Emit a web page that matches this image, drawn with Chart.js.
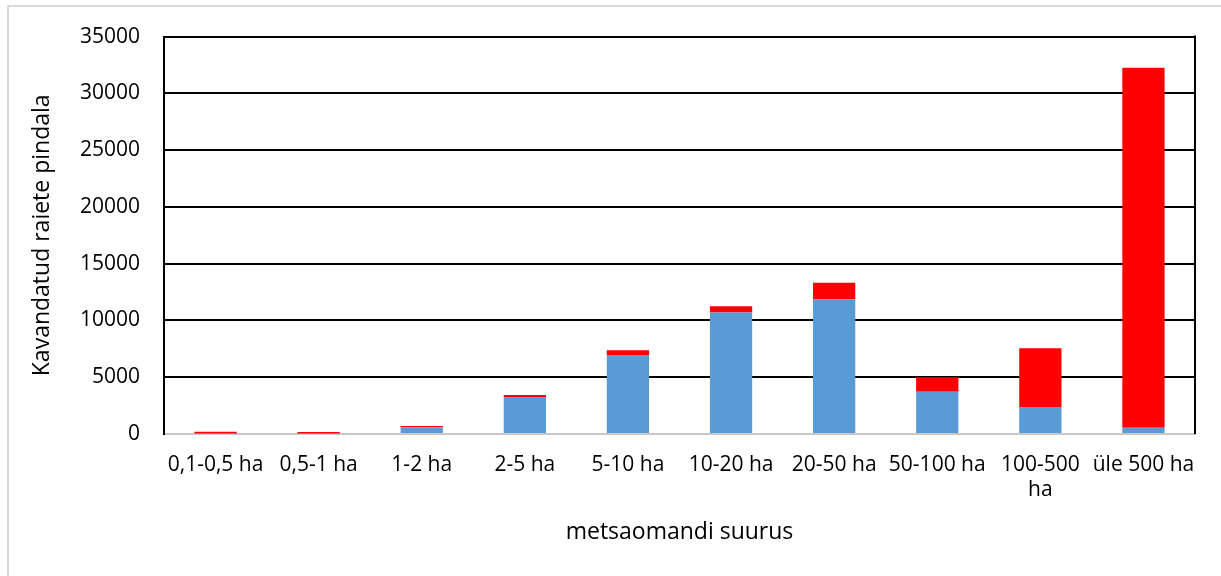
<!DOCTYPE html>
<html>
<head>
<meta charset="utf-8">
<script src="https://cdn.jsdelivr.net/npm/chart.js@4/dist/chart.umd.min.js"></script>
<style>
  html, body { margin: 0; padding: 0; background: #fff; }
  #wrap { width: 1221px; height: 576px; position: relative; }
</style>
</head>
<body>
<div id="wrap"><canvas id="raiedChart"></canvas></div>
<script>
// andmed graafikult
const categories = ['0,1-0,5 ha', '0,5-1 ha', '1-2 ha', '2-5 ha', '5-10 ha', '10-20 ha',
                    '20-50 ha', '50-100 ha', ['100-500', 'ha'], 'üle 500 ha'];
const blueValues = [20, 30, 600, 3250, 6950, 10700, 11850, 3720, 2380, 550];
const redValues  = [170, 140, 110, 180, 420, 550, 1480, 1280, 5170, 31700];
const yTicks = [0, 5000, 10000, 15000, 20000, 25000, 30000, 35000];

const FONT = '"Open Sans"';

// hall raam ümber ja parem piirjoon
const framePlugin = {
    id: 'frame',
    beforeDraw(chart) {
        const c = chart.ctx;
        c.save();
        c.strokeStyle = '#d9d9d9';
        c.lineWidth = 2;
        c.beginPath();
        c.moveTo(8, 600);
        c.lineTo(8, 6);
        c.lineTo(1240, 6);
        c.stroke();
        c.restore();
    },
    afterDatasetsDraw(chart) {
        const a = chart.chartArea;
        const c = chart.ctx;
        c.save();
        c.strokeStyle = '#000';
        c.lineWidth = 2;
        c.beginPath();
        c.moveTo(a.right, a.top - 1);
        c.lineTo(a.right, a.bottom);
        c.stroke();
        c.restore();
    }
};

const ctx = document.getElementById('raiedChart').getContext('2d');
new Chart(ctx, {
    type: 'bar',
    data: {
        labels: categories,
        datasets: [
            {
                label: 'Seeria 1',
                data: blueValues,
                backgroundColor: '#5b9bd5',
                borderWidth: 0,
                barPercentage: 0.41,
                categoryPercentage: 1
            },
            {
                label: 'Seeria 2',
                data: redValues,
                backgroundColor: '#ff0000',
                borderWidth: 0,
                barPercentage: 0.41,
                categoryPercentage: 1
            }
        ]
    },
    options: {
        responsive: true,
        maintainAspectRatio: false,
        animation: false,
        layout: { padding: { left: 20, top: 35, right: 26, bottom: 0 } },
        plugins: {
            legend: { display: false },
            tooltip: { enabled: false }
        },
        scales: {
            x: {
                stacked: true,
                grid: { display: false, drawTicks: false },
                border: { color: '#c8c8c8', width: 2 },
                ticks: {
                    color: '#000',
                    font: { family: FONT, size: 21 },
                    padding: 18,
                    autoSkip: false,
                    maxRotation: 0
                },
                title: {
                    display: true,
                    text: 'metsaomandi suurus',
                    color: '#000',
                    font: { family: FONT, size: 23 },
                    padding: { top: 0, bottom: 30 }
                },
                afterFit(scale) { scale.height = 142; }
            },
            y: {
                stacked: true,
                min: 0,
                max: 35000,
                afterBuildTicks(scale) { scale.ticks = yTicks.map(v => ({ value: v })); },
                grid: { color: '#000', lineWidth: 2, drawTicks: false },
                border: { color: '#000', width: 2 },
                ticks: {
                    color: '#000',
                    font: { family: FONT, size: 21 },
                    padding: 24,
                    callback: v => String(v)
                },
                title: {
                    display: true,
                    text: 'Kavandatud raiete pindala',
                    color: '#000',
                    font: { family: FONT, size: 23 },
                    padding: { top: 9, bottom: 0 }
                },
                afterFit(scale) { scale.width = 144; }
            }
        }
    },
    plugins: [framePlugin]
});
</script>
</body>
</html>
